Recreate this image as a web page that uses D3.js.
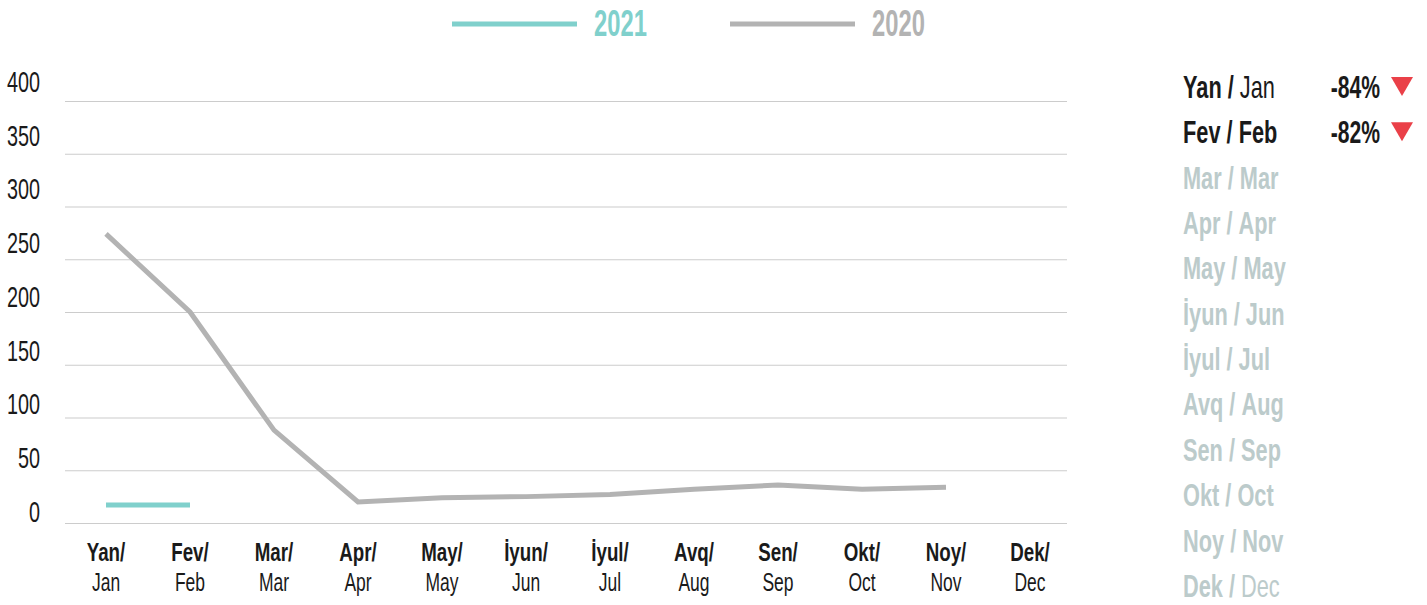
<!DOCTYPE html>
<html>
<head>
<meta charset="utf-8">
<script src="https://cdn.jsdelivr.net/npm/d3@7"></script>
<style>
  body { margin: 0; background: #fff; }
  text { font-family: "Liberation Sans", Arial, sans-serif; }
</style>
</head>
<body>
<svg id="chart" width="1427" height="605"></svg>
<script>
// month labels (Azerbaijani / English)
const monthsAz = ['Yan', 'Fev', 'Mar', 'Apr', 'May', 'İyun', 'İyul', 'Avq', 'Sen', 'Okt', 'Noy', 'Dek'];
const monthsEn = ['Jan', 'Feb', 'Mar', 'Apr', 'May', 'Jun', 'Jul', 'Aug', 'Sep', 'Oct', 'Nov', 'Dec'];

// series values
const values2020 = [274, 200, 88, 20, 24, 25, 27, 32, 36, 32, 34];
const values2021 = [17, 17];

// year-on-year change shown in the side list
const changes = ['-84%', '-82%'];
const yTicks = [0, 50, 100, 150, 200, 250, 300, 350, 400];

const teal = '#80d0cc';
const grey = '#b3b3b3';
const ink = '#1a1a1a';

// no condensed font available, so squeeze the text horizontally
const squeeze = (px, py, sq = 0.66) => `translate(${px},${py}) scale(${sq},1)`;

const svg = d3.select('#chart');

// scales
const x = d3.scalePoint()
    .domain(monthsEn)
    .range([106, 1030]);
const y = d3.scaleLinear()
    .domain([0, 400])
    .range([523, 101]);
// tick labels sit a bit above their gridlines, on a slightly looser spacing
const yLab = d3.scaleLinear()
    .domain([0, 400])
    .range([511, 81]);

// gridlines
svg.append('g')
   .selectAll('line')
   .data(yTicks)
   .enter()
   .append('line')
   .attr('x1', 65)
   .attr('x2', 1067)
   .attr('y1', d => y(d) + 0.5)
   .attr('y2', d => y(d) + 0.5)
   .style('stroke', '#cccccc')
   .style('stroke-width', 1.2);

// y labels
svg.append('g')
   .selectAll('text')
   .data(yTicks)
   .enter()
   .append('text')
   .attr('transform', d => squeeze(40, yLab(d)))
   .attr('dy', '0.36em')
   .attr('text-anchor', 'end')
   .style('font-size', '30px')
   .style('fill', ink)
   .text(d => d);

// x labels
const xl = svg.append('g')
   .selectAll('g')
   .data(monthsEn)
   .enter()
   .append('g')
   .attr('transform', d => `translate(${x(d)},0)`);
xl.append('text')
  .attr('transform', squeeze(0, 561, 0.75))
  .attr('text-anchor', 'middle')
  .style('font-size', '25px')
  .style('font-weight', 'bold')
  .style('fill', ink)
  .text((d, i) => monthsAz[i] + '/');
xl.append('text')
  .attr('transform', squeeze(0, 591, 0.7))
  .attr('text-anchor', 'middle')
  .style('font-size', '25px')
  .style('fill', ink)
  .text(d => d);

// lines
const line = d3.line()
    .x((d, i) => x(monthsEn[i]))
    .y(d => y(d));

svg.append('path')
   .datum(values2020)
   .attr('d', line)
   .style('fill', 'none')
   .style('stroke', grey)
   .style('stroke-width', 5);

svg.append('path')
   .datum(values2021)
   .attr('d', line)
   .style('fill', 'none')
   .style('stroke', teal)
   .style('stroke-width', 5);

// legend
const legend = [{name: '2021', color: teal, x: 452}, {name: '2020', color: grey, x: 730}];
const lg = svg.append('g')
   .selectAll('g')
   .data(legend)
   .enter()
   .append('g')
   .attr('transform', d => `translate(${d.x},0)`);
lg.append('line')
  .attr('x1', 0).attr('x2', 125)
  .attr('y1', 24).attr('y2', 24)
  .style('stroke', d => d.color)
  .style('stroke-width', 5);
lg.append('text')
  .attr('transform', squeeze(142, 36))
  .style('font-size', '36px')
  .style('font-weight', 'bold')
  .style('fill', d => d.color)
  .text(d => d.name);

// side list of months with change
const lightEn = [0, 11];
const rowY = d3.scalePoint()
    .domain(monthsEn)
    .range([87, 586]);
const rows = svg.append('g')
   .selectAll('g')
   .data(monthsEn)
   .enter()
   .append('g')
   .attr('transform', d => `translate(1183,${rowY(d)})`);
const rowText = rows.append('text')
   .attr('transform', squeeze(0, 0, 0.68))
   .attr('dy', '0.34em')
   .style('font-size', '32px')
   .style('fill', (d, i) => i < changes.length ? ink : '#bccbcb');
rowText.append('tspan')
   .style('font-weight', 'bold')
   .text((d, i) => monthsAz[i] + ' / ');
rowText.append('tspan')
   .style('font-weight', (d, i) => lightEn.includes(i) ? 'normal' : 'bold')
   .text(d => d);

const active = rows.filter((d, i) => i < changes.length);
active.append('text')
   .attr('transform', squeeze(197, 0))
   .attr('dy', '0.34em')
   .attr('text-anchor', 'end')
   .style('font-size', '32px')
   .style('font-weight', 'bold')
   .style('fill', ink)
   .text((d, i) => changes[i]);

active.append('path')
   .attr('d', 'M208,-10 L230,-10 L219,9 Z')
   .style('fill', '#ea4048');
</script>
</body>
</html>
